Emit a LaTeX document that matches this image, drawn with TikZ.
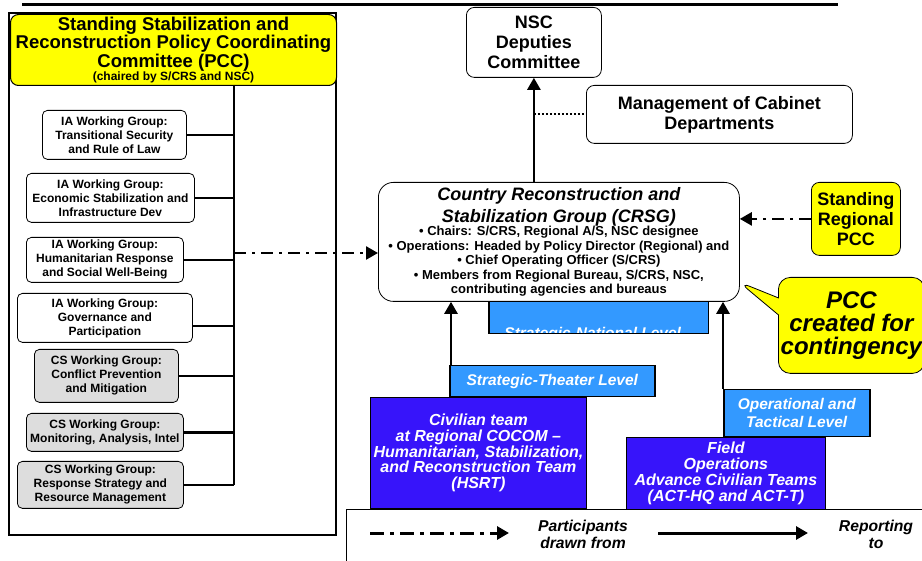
\documentclass[tikz,border=0pt]{standalone}
\usepackage{fontspec}
\setmainfont{Liberation Sans}
\usetikzlibrary{positioning, calc, arrows.meta, shapes.callouts}
\definecolor{pccyellow}{RGB}{255,255,0}
\definecolor{levelblue}{RGB}{51,153,255}
\definecolor{teamblue}{RGB}{55,20,250}
\definecolor{csgray}{RGB}{221,221,221}

\begin{document}
\begin{tikzpicture}[x=1pt, y=-1pt]
		\tikzstyle{wg}=[draw=black, line width=0.8pt, rounded corners=5pt, fill=white, align=center, inner sep=1pt, anchor=north west, font=\fontsize{12}{14}\selectfont\bfseries]
		\tikzstyle{cswg}=[wg, fill=csgray]
		\tikzstyle{office}=[draw=black, line width=0.8pt, rounded corners=8pt, fill=white, align=center, inner sep=1pt, anchor=north west, font=\fontsize{18}{20}\selectfont\bfseries]
		\tikzstyle{level}=[draw=black, line width=1.5pt, fill=levelblue, text=white, align=center, inner sep=1pt, anchor=north west, font=\fontsize{15.5}{18}\selectfont\bfseries\itshape]
		\tikzstyle{team}=[draw=black, line width=0.8pt, fill=teamblue, text=white, align=center, inner sep=1pt, anchor=north west, font=\fontsize{16}{15.7}\selectfont\bfseries\itshape]
		\tikzstyle{link}=[line width=2.5pt]
		\tikzstyle{report}=[line width=2.5pt, -{Triangle[length=12pt,width=13pt]}]
		\tikzstyle{drawn}=[line width=2.5pt, dash pattern=on 12pt off 6pt on 3pt off 6pt, -{Triangle[length=12pt,width=13pt]}]
		\tikzstyle{legendtext}=[align=center, inner sep=0pt, font=\fontsize{15.7}{17}\selectfont\bfseries\itshape]
		
		\useasboundingbox (0,0) rectangle (922,561);
		\draw[line width=3pt] (22,5) -- (838,5);
		
		% standing PCC and its working groups
		\node (pccframe) at (8,12) [draw=black, line width=2pt, minimum width=327pt, minimum height=522pt, anchor=north west] {};
		\node (pcc) at (10,14) [draw=black, line width=1pt, rounded corners=8pt, fill=pccyellow, align=center, inner sep=0pt, anchor=north west, minimum width=326pt, minimum height=71pt, font=\fontsize{18.5}{18.5}\selectfont\bfseries] {Standing Stabilization and\\Reconstruction Policy Coordinating\\Committee (PCC)\\[-5pt]\fontsize{12}{13}\selectfont(chaired by S/CRS and NSC)};
		
		\node (wg1) at (42,110) [wg, minimum width=144pt, minimum height=49pt] {IA Working Group:\\Transitional Security\\and Rule of Law};
		\node (wg2) at (26,173) [wg, minimum width=168pt, minimum height=49pt] {IA Working Group:\\Economic Stabilization and\\Infrastructure Dev};
		\node (wg3) at (26,237) [wg, minimum width=157pt, minimum height=45pt] {IA Working Group:\\Humanitarian Response\\and Social Well-Being};
		\node (wg4) at (17,293) [wg, minimum width=175pt, minimum height=49pt] {IA Working Group:\\Governance and\\Participation};
		\node (wg5) at (34,349) [cswg, minimum width=144pt, minimum height=53pt] {CS Working Group:\\Conflict Prevention\\and Mitigation};
		\node (wg6) at (26,413) [cswg, minimum width=157pt, minimum height=38pt] {CS Working Group:\\Monitoring, Analysis, Intel};
		\node (wg7) at (17,461) [cswg, minimum width=166pt, minimum height=47pt] {CS Working Group:\\Response Strategy and\\Resource Management};
		
		\coordinate (spinetop) at (234,85);
		\coordinate (spinebot) at (234,485);
		\coordinate (tap) at (234,253);
		\draw[link] (spinetop) -- (spinebot);
		\foreach \g in {wg1,wg2,wg3,wg5,wg6,wg7}
			\draw[link] (\g.east) -- (\g.east -| spinetop);
		\draw[link] ([yshift=-8pt]wg4.east) -- ([yshift=-8pt]wg4.east -| spinetop);
		
		% national level
		\node (nsc) at (466,7) [office, minimum width=135pt, minimum height=70pt] {NSC\\Deputies\\Committee};
		\node (mgmt) at (586,85) [office, minimum width=266pt, minimum height=58pt] {Management of Cabinet\\Departments};
		
		\node (natl) at (489,301) [level, draw=none, minimum width=218pt, minimum height=31pt] {};
		\begin{scope}
			\clip (natl.north west) rectangle (natl.south east);
			\node (natltext) at ($(natl.south)+(-6,1)$) [text=white, inner sep=0pt, font=\fontsize{15.5}{18}\selectfont\bfseries\itshape] {Strategic-National Level};
		\end{scope}
		\draw[line width=1.5pt] (natl.north west) rectangle (natl.south east);
		
		\node (crsg) at (378,182) [draw=black, line width=0.8pt, rounded corners=15pt, fill=white, align=center, inner sep=1pt, anchor=north west, minimum width=361pt, minimum height=119pt, font=\fontsize{13}{14.5}\selectfont\bfseries] {\fontsize{18}{20}\selectfont\itshape Country Reconstruction and\\[4pt]\fontsize{18}{20}\selectfont\itshape Stabilization Group (CRSG)\\[-1pt]• Chairs: S/CRS, Regional A/S, NSC designee\\• Operations: Headed by Policy Director (Regional) and\\• Chief Operating Officer (S/CRS)\\• Members from Regional Bureau, S/CRS, NSC,\\contributing agencies and bureaus};
		
		\node (srpcc) at (811,182) [draw=black, line width=0.8pt, rounded corners=8pt, fill=pccyellow, align=center, inner sep=0pt, anchor=north west, minimum width=89pt, minimum height=73pt, font=\fontsize{18}{20}\selectfont\bfseries] {Standing\\Regional\\PCC};
		
		\coordinate (calltip) at (739,282);
		\node (contingency) at (778,277) [rectangle callout, callout absolute pointer={(calltip)}, callout pointer width=17pt, draw=black, line width=0.8pt, rounded corners=12pt, fill=pccyellow, align=center, inner sep=0pt, anchor=north west, minimum width=146pt, minimum height=96pt, font=\fontsize{24}{23}\selectfont\bfseries\itshape] {PCC\\created for\\contingency};
		
		% theater and field level
		\node (theater) at (449,365) [level, minimum width=205pt, minimum height=31pt] {Strategic-Theater Level};
		\node (civteam) at (370,397) [team, minimum width=216pt, minimum height=111pt] {Civilian team\\at Regional COCOM –\\Humanitarian, Stabilization,\\and Reconstruction Team\\(HSRT)};
		\node (optac) at (723,389) [level, minimum width=146pt, minimum height=47pt] {Operational and\\Tactical Level};
		\node (field) at (626,437) [team, minimum width=199pt, minimum height=72pt] {Field\\Operations\\Advance Civilian Teams\\(ACT-HQ and ACT-T)};
		
		% connectors
		\draw[report] (nsc.south |- crsg.north) -- (nsc.south);
		\draw[line width=2pt, dash pattern=on 2pt off 2pt] (mgmt.west -| nsc.south) -- (mgmt.west);
		\draw[drawn] (tap) -- (tap -| crsg.west);
		\draw[drawn] (srpcc.west) -- (srpcc.west -| crsg.east);
		\draw[report] ([xshift=2pt]theater.north west) -- ([xshift=2pt]theater.north west |- crsg.south);
		\draw[report] (optac.north west) -- (optac.north west |- crsg.south);
		
		% legend
		\node (legend) at (346,509) [draw=black, line width=1pt, fill=white, minimum width=600pt, minimum height=80pt, anchor=north west] {};
		\node (partic) at (583,534) [legendtext] {Participants\\drawn from};
		\node (reporting) at (876,534) [legendtext] {Reporting\\to};
		\coordinate (drawnA) at (370,533);
		\coordinate (drawnB) at (509,533);
		\coordinate (reportA) at (658,533);
		\coordinate (reportB) at (808,533);
		\draw[drawn, line width=3pt, dash pattern=on 14pt off 6pt on 4pt off 6pt] (drawnA) -- (drawnB);
		\draw[report, line width=3pt] (reportA) -- (reportB);
		
\end{tikzpicture}
\end{document}
